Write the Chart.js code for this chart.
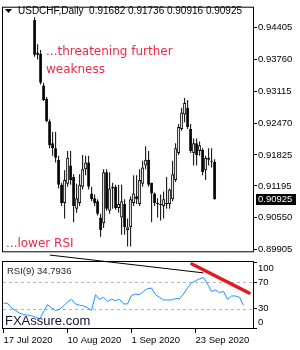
<!DOCTYPE html>
<html>
<head>
<meta charset="utf-8">
<script src="https://cdn.jsdelivr.net/npm/chart.js@4.4.1/dist/chart.umd.min.js"></script>
<style>
  html, body { margin: 0; padding: 0; background: #fff; }
  #wrap { position: relative; width: 300px; height: 350px; overflow: hidden; background: #fff; }
  #price { position: absolute; left: 0; top: 0; }
  #rsi { position: absolute; left: 0; top: 240px; }
</style>
</head>
<body>
<div id="wrap">
  <canvas id="price" width="300" height="259"></canvas>
  <canvas id="rsi" width="300" height="110"></canvas>
</div>
<script>
// USDCHF daily, 17 Jul 2020 .. 9 Oct 2020
const opens = [
    0.94562, 0.93897, 0.93878, 0.93232, 0.92959, 0.92509, 0.92059, 0.91962, 0.91727, 0.91220,
    0.90847, 0.91238, 0.91610, 0.91375, 0.90730, 0.90847, 0.91180, 0.91532, 0.91668, 0.91043,
    0.90945, 0.90886, 0.90554, 0.90437, 0.91473, 0.90691, 0.91140, 0.91180, 0.90749, 0.90554,
    0.90828, 0.90300, 0.90358, 0.90847, 0.90984, 0.90828, 0.91238, 0.91610, 0.91727, 0.91258,
    0.91043, 0.90847, 0.90808, 0.90789, 0.90828, 0.90828, 0.90925, 0.91317, 0.91864, 0.92353,
    0.92646, 0.92783, 0.92353, 0.91864, 0.92059, 0.91903, 0.91922, 0.91512, 0.91766, 0.91707,
    0.91682
];
const highs = [
    0.94620, 0.94073, 0.93956, 0.93291, 0.92998, 0.92548, 0.92294, 0.92294, 0.91805, 0.91258,
    0.91512, 0.91903, 0.91903, 0.91434, 0.91238, 0.91434, 0.91825, 0.91805, 0.91805, 0.91180,
    0.91023, 0.90925, 0.90632, 0.91532, 0.91532, 0.91473, 0.91258, 0.91220, 0.91220, 0.91220,
    0.90925, 0.90534, 0.90984, 0.91414, 0.91414, 0.91532, 0.91707, 0.92001, 0.91903, 0.91258,
    0.91062, 0.90945, 0.91023, 0.91082, 0.91375, 0.91140, 0.91707, 0.92059, 0.92450, 0.92783,
    0.92978, 0.92939, 0.92450, 0.92157, 0.92157, 0.92098, 0.91962, 0.91805, 0.91962, 0.91962,
    0.91736
];
const lows = [
    0.93819, 0.93760, 0.93252, 0.92919, 0.92489, 0.91962, 0.91805, 0.91668, 0.91140, 0.90789,
    0.90534, 0.91180, 0.91220, 0.90456, 0.90652, 0.90789, 0.91121, 0.91414, 0.91121, 0.90886,
    0.90789, 0.90593, 0.90163, 0.90339, 0.90691, 0.90632, 0.90730, 0.90710, 0.90652, 0.90202,
    0.90202, 0.89967, 0.89967, 0.90789, 0.90828, 0.90789, 0.91180, 0.91532, 0.91180, 0.90456,
    0.90789, 0.90554, 0.90495, 0.90534, 0.90730, 0.90730, 0.90886, 0.91277, 0.91825, 0.92313,
    0.92489, 0.92353, 0.91864, 0.91610, 0.91610, 0.91805, 0.91414, 0.91317, 0.91610, 0.91571,
    0.90916
];
const closes = [
    0.93858, 0.93858, 0.93291, 0.92939, 0.92509, 0.92020, 0.91962, 0.91766, 0.91220, 0.90847,
    0.91317, 0.91766, 0.91317, 0.90789, 0.90945, 0.91220, 0.91532, 0.91668, 0.91180, 0.90925,
    0.90847, 0.90632, 0.90300, 0.91473, 0.90730, 0.91140, 0.91180, 0.90749, 0.90828, 0.90886,
    0.90358, 0.90358, 0.90925, 0.91043, 0.90925, 0.91317, 0.91571, 0.91727, 0.91220, 0.91043,
    0.90847, 0.90828, 0.90828, 0.90925, 0.90847, 0.91121, 0.91434, 0.91962, 0.92392, 0.92685,
    0.92880, 0.92392, 0.91903, 0.92059, 0.91825, 0.92020, 0.91473, 0.91766, 0.91727, 0.91688,
    0.90925
];
const rsi = [
    38, 38, 31, 27, 23, 21, 20, 19, 17, 14,
    25, 36, 31, 27, 29, 34, 40, 44, 37, 35,
    34, 31, 27, 51, 44, 47, 41, 44, 42, 44,
    37, 37, 50, 52, 51, 56, 60, 61, 51, 47,
    43, 43, 43, 45, 45, 52, 61, 69, 72, 75,
    77, 67, 56, 58, 54, 56, 44, 49, 49, 47,
    34.7936
];
const priceTicks = [0.94405, 0.93760, 0.93115, 0.92470, 0.91825, 0.91195, 0.90550, 0.89905];
const rsiTicks = [100, 70, 30, 0];
const rsiLevels = [70, 30];
const xTickIdx = [0, 16, 32, 48];
const xTickLabels = ['17 Jul 2020', '10 Aug 2020', '1 Sep 2020', '23 Sep 2020'];
// trendlines as [bar index, RSI value]
const blackTrend = [[11.6, 111], [50, 84]];
const redTrend = [[47.1, 97.5], [61.4, 53.5]];

const AXIS_FONT = '"Liberation Sans", Arial, sans-serif';
const NOTE_FONT = '"DejaVu Sans", Verdana, sans-serif';
const NOTE_RED = '#f0284a';
const last = closes.length - 1;

function frame(chart) {
    const { ctx, chartArea: a } = chart;
    ctx.save();
    ctx.strokeStyle = '#000';
    ctx.lineWidth = 1;
    ctx.strokeRect(a.left + 0.5, a.top + 0.5, a.right - a.left - 1, a.bottom - a.top - 1);
    ctx.restore();
}

const pricePlugin = {
    id: 'priceExtras',
    afterDraw(chart) {
        const ctx = chart.ctx;
        const y = chart.scales.y;
        frame(chart);
        ctx.save();
        // header
        ctx.fillStyle = '#000';
        ctx.beginPath();
        ctx.moveTo(5, 9); ctx.lineTo(12, 9); ctx.lineTo(8.5, 13); ctx.closePath();
        ctx.fill();
        ctx.font = '10px ' + AXIS_FONT;
        ctx.textBaseline = 'middle';
        ctx.fillText('USDCHF,Daily  ' + [opens[last], highs[last], lows[last], closes[last]]
            .map(v => v.toFixed(5)).join(' '), 18, 11);
        // notes
        ctx.fillStyle = NOTE_RED;
        ctx.font = '12px ' + NOTE_FONT;
        ctx.textBaseline = 'alphabetic';
        ctx.fillText('...threatening further', 46, 55);
        ctx.fillText('weakness', 46, 73);
        ctx.fillText('...lower RSI', 6, 247);
        // current price box
        const py = Math.round(y.getPixelForValue(closes[last]));
        ctx.fillStyle = '#000';
        ctx.fillRect(256, py - 5, 40, 11);
        ctx.fillStyle = '#fff';
        ctx.font = '9.5px ' + AXIS_FONT;
        ctx.textBaseline = 'middle';
        ctx.fillText(closes[last].toFixed(5), 258, py + 0.5);
        ctx.restore();
    }
};

new Chart(document.getElementById('price'), {
    type: 'bar',
    data: {
        datasets: [
            {
                data: highs.map((h, i) => ({ x: i, y: [lows[i], h] })),
                backgroundColor: '#000',
                barThickness: 1,
                grouped: false,
                inflateAmount: 0,
                order: 2
            },
            {
                data: opens.map((o, i) => ({ x: i, y: [Math.min(o, closes[i]), Math.max(o, closes[i])] })),
                backgroundColor: ctx => closes[ctx.dataIndex] >= opens[ctx.dataIndex] ? '#fff' : '#000',
                borderColor: '#000',
                borderWidth: 1,
                borderSkipped: false,
                barThickness: 3,
                minBarLength: 1,
                grouped: false,
                inflateAmount: 0,
                order: 1
            }
        ]
    },
    options: {
        responsive: false,
        animation: false,
        devicePixelRatio: 1,
        layout: { padding: { left: 2, top: 3, right: 0, bottom: 0 } },
        plugins: { legend: { display: false }, tooltip: { enabled: false } },
        scales: {
            x: { type: 'linear', display: false, min: -0.375, max: 62.625 },
            y: {
                position: 'right',
                min: 0.89847,
                max: 0.94834,
                afterFit: s => { s.width = 46; },
                afterBuildTicks: s => { s.ticks = priceTicks.map(v => ({ value: v })); },
                ticks: {
                    callback: v => v.toFixed(5),
                    font: { family: AXIS_FONT, size: 9.5 },
                    color: '#000',
                    padding: 1
                },
                grid: { drawOnChartArea: false, tickLength: 3, color: '#000' },
                border: { display: false }
            }
        }
    },
    plugins: [pricePlugin]
});

const rsiPlugin = {
    id: 'rsiExtras',
    beforeDatasetsDraw(chart) {
        const { ctx, chartArea: a } = chart;
        const y = chart.scales.y;
        ctx.save();
        ctx.strokeStyle = '#b4b4b4';
        ctx.lineWidth = 1;
        ctx.setLineDash([3, 3]);
        rsiLevels.forEach(v => {
            const py = Math.round(y.getPixelForValue(v)) + 0.5;
            ctx.beginPath();
            ctx.moveTo(a.left + 1, py);
            ctx.lineTo(a.right - 1, py);
            ctx.stroke();
        });
        ctx.restore();
    },
    afterDraw(chart) {
        const { ctx, chartArea: a } = chart;
        const y = chart.scales.y;
        frame(chart);
        ctx.save();
        ctx.fillStyle = '#000';
        ctx.font = '9.5px ' + AXIS_FONT;
        ctx.textBaseline = 'middle';
        rsiTicks.forEach(v => {
            let py = y.getPixelForValue(v);
            py = Math.min(Math.max(py, a.top + 7), a.bottom - 7);
            ctx.fillText(String(v), 258, py);
        });
        ctx.fillStyle = '#222';
        ctx.fillText('RSI(9) ' + rsi[last].toFixed(4), 7, a.top + 10);
        ctx.fillStyle = '#12122e';
        ctx.font = '13px ' + AXIS_FONT;
        ctx.textBaseline = 'alphabetic';
        ctx.fillText('FXAssure.com', 5, a.bottom - 4);
        ctx.restore();
    }
};

new Chart(document.getElementById('rsi'), {
    type: 'line',
    data: {
        datasets: [
            {
                data: rsi.map((v, i) => ({ x: i, y: v })),
                borderColor: '#1e90ff',
                borderWidth: 1,
                pointRadius: 0,
                tension: 0
            },
            {
                data: blackTrend.map(p => ({ x: p[0], y: p[1] })),
                borderColor: '#000',
                borderWidth: 1,
                pointRadius: 0,
                clip: false
            },
            {
                data: redTrend.map(p => ({ x: p[0], y: p[1] })),
                borderColor: '#e8161e',
                borderWidth: 3.5,
                borderCapStyle: 'round',
                pointRadius: 0,
                clip: false
            }
        ]
    },
    options: {
        responsive: false,
        animation: false,
        devicePixelRatio: 1,
        layout: { padding: { left: 2, top: 21, right: 0, bottom: 0 } },
        plugins: { legend: { display: false }, tooltip: { enabled: false } },
        scales: {
            x: {
                type: 'linear',
                min: -0.375,
                max: 62.625,
                afterFit: s => { s.height = 21; },
                afterBuildTicks: s => { s.ticks = xTickIdx.map(v => ({ value: v })); },
                ticks: {
                    callback: (v, i) => xTickLabels[i],
                    align: 'start',
                    maxRotation: 0,
                    autoSkip: false,
                    font: { family: AXIS_FONT, size: 9.5 },
                    color: '#000',
                    padding: 2
                },
                grid: { drawOnChartArea: false, tickLength: 4, color: '#000' },
                border: { display: false }
            },
            y: {
                position: 'right',
                min: -1,
                max: 102,
                afterFit: s => { s.width = 46; },
                afterBuildTicks: s => { s.ticks = rsiTicks.map(v => ({ value: v })); },
                ticks: { display: false },
                grid: { drawOnChartArea: false, tickLength: 3, color: '#000' },
                border: { display: false }
            }
        }
    },
    plugins: [rsiPlugin]
});
</script>
</body>
</html>
